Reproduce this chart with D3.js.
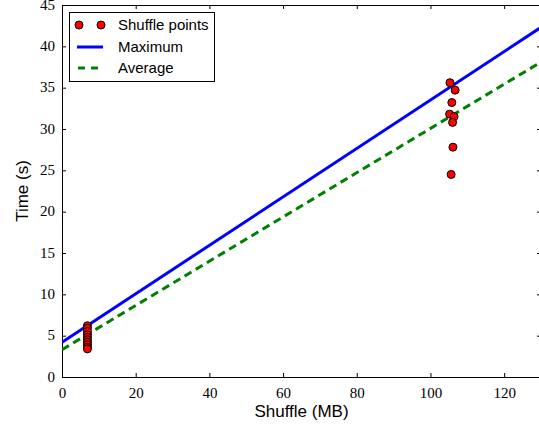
<!DOCTYPE html>
<html><head><meta charset="utf-8">
<script src="https://cdn.jsdelivr.net/npm/d3@7"></script>
<style>body{margin:0;background:#fff}svg{display:block}</style>
</head><body>
<script>
const shuffleMB = [6.9, 6.9, 6.9, 6.9, 6.9, 6.9, 6.9, 6.9, 6.9, 6.9,
                   105.3, 106.7, 105.8, 105.2, 106.4, 106.0, 106.1, 105.6];
const timeS = [6.2, 5.9, 5.5, 5.1, 4.8, 4.5, 4.2, 3.9, 3.6, 3.4,
               35.6, 34.7, 33.2, 31.8, 31.5, 30.8, 27.8, 24.5];
const lineX = [0, 130];
const maxLine = [4.2, 42.3];
const avgLine = [3.3, 38.1];
const xTicks = [0, 20, 40, 60, 80, 100, 120];
const yTicks = [0, 5, 10, 15, 20, 25, 30, 35, 40, 45];
const legendLabels = ["Shuffle points", "Maximum", "Average"];

const W = 539, H = 428;
const L = 62, R = 541, T = 5, B = 377;
const svg = d3.select("body").append("svg").attr("width", W).attr("height", H);
const x = d3.scaleLinear().domain([0, 130]).range([L, R]);
const y = d3.scaleLinear().domain([0, 45]).range([B, T]);

svg.append("defs").append("clipPath").attr("id", "clip")
  .append("rect").attr("x", L).attr("y", T).attr("width", R - L).attr("height", B - T);

const sans = "'Liberation Sans',Arial,sans-serif";
const serifStyle = "font-family:'Liberation Serif','Times New Roman',serif;font-size:15px";

const gx = svg.append("g").attr("transform", `translate(0,${B})`)
  .call(d3.axisBottom(x).tickValues(xTicks).tickSize(-4).tickPadding(10).tickFormat(d3.format("d")));
const gxTop = svg.append("g").attr("transform", `translate(0,${T})`)
  .call(d3.axisTop(x).tickValues(xTicks).tickSize(-4).tickFormat(""));
const gy = svg.append("g").attr("transform", `translate(${L},0)`)
  .call(d3.axisLeft(y).tickValues(yTicks).tickSize(-4).tickPadding(7).tickFormat(d3.format("d")));
const gyR = svg.append("g").attr("transform", `translate(${R},0)`)
  .call(d3.axisRight(y).tickValues(yTicks).tickSize(-4).tickFormat(""));
[gx, gxTop, gy, gyR].forEach(g => {
  g.selectAll(".domain").attr("stroke", "#000").attr("stroke-width", 1);
  g.selectAll(".tick line").attr("stroke", "#000");
  g.selectAll("text").attr("fill", "#000").attr("style", serifStyle);
});
gy.selectAll(".tick text").attr("dy", "0.28em");
gx.selectAll(".tick text").attr("dy", "0.75em");

const plot = svg.append("g").attr("clip-path", "url(#clip)");
const lineGen = d3.line().x(d => x(d[0])).y(d => y(d[1]));
plot.append("path").datum(lineX.map((v, i) => [v, maxLine[i]]))
  .attr("d", lineGen).attr("fill", "none").attr("stroke", "#0000ff").attr("stroke-width", 3);
plot.append("path").datum(lineX.map((v, i) => [v, avgLine[i]]))
  .attr("d", lineGen).attr("fill", "none").attr("stroke", "#008000").attr("stroke-width", 3)
  .attr("stroke-dasharray", "8,5");
plot.selectAll("circle.pt").data(shuffleMB.map((v, i) => [v, timeS[i]])).enter()
  .append("circle").attr("class", "pt")
  .attr("cx", d => x(d[0])).attr("cy", d => y(d[1])).attr("r", 4)
  .attr("fill", "#ff0000").attr("stroke", "#000").attr("stroke-width", 1);

svg.append("text").attr("x", (L + R) / 2).attr("y", 417).attr("text-anchor", "middle")
  .attr("font-family", sans).attr("font-size", 17).text("Shuffle (MB)");
svg.append("text").attr("transform", `translate(28,${(T + B) / 2}) rotate(-90)`)
  .attr("text-anchor", "middle").attr("font-family", sans).attr("font-size", 17).text("Time (s)");

const lg = svg.append("g");
lg.append("rect").attr("x", 69.5).attr("y", 12.5).attr("width", 145).attr("height", 69)
  .attr("fill", "#fff").attr("stroke", "#000").attr("stroke-width", 1);
const rowsY = [25, 47, 68];
lg.selectAll("circle").data([79, 101]).enter().append("circle")
  .attr("cx", d => d).attr("cy", rowsY[0]).attr("r", 4)
  .attr("fill", "#ff0000").attr("stroke", "#000");
lg.append("line").attr("x1", 77).attr("x2", 103).attr("y1", rowsY[1]).attr("y2", rowsY[1])
  .attr("stroke", "#0000ff").attr("stroke-width", 3);
lg.append("line").attr("x1", 78).attr("x2", 104).attr("y1", rowsY[2]).attr("y2", rowsY[2])
  .attr("stroke", "#008000").attr("stroke-width", 3).attr("stroke-dasharray", "7,6");
lg.selectAll("text").data(legendLabels).enter().append("text")
  .attr("x", 118).attr("y", (d, i) => rowsY[i]).attr("dy", "0.35em")
  .attr("font-family", sans).attr("font-size", 15).text(d => d);
</script>
</body></html>
